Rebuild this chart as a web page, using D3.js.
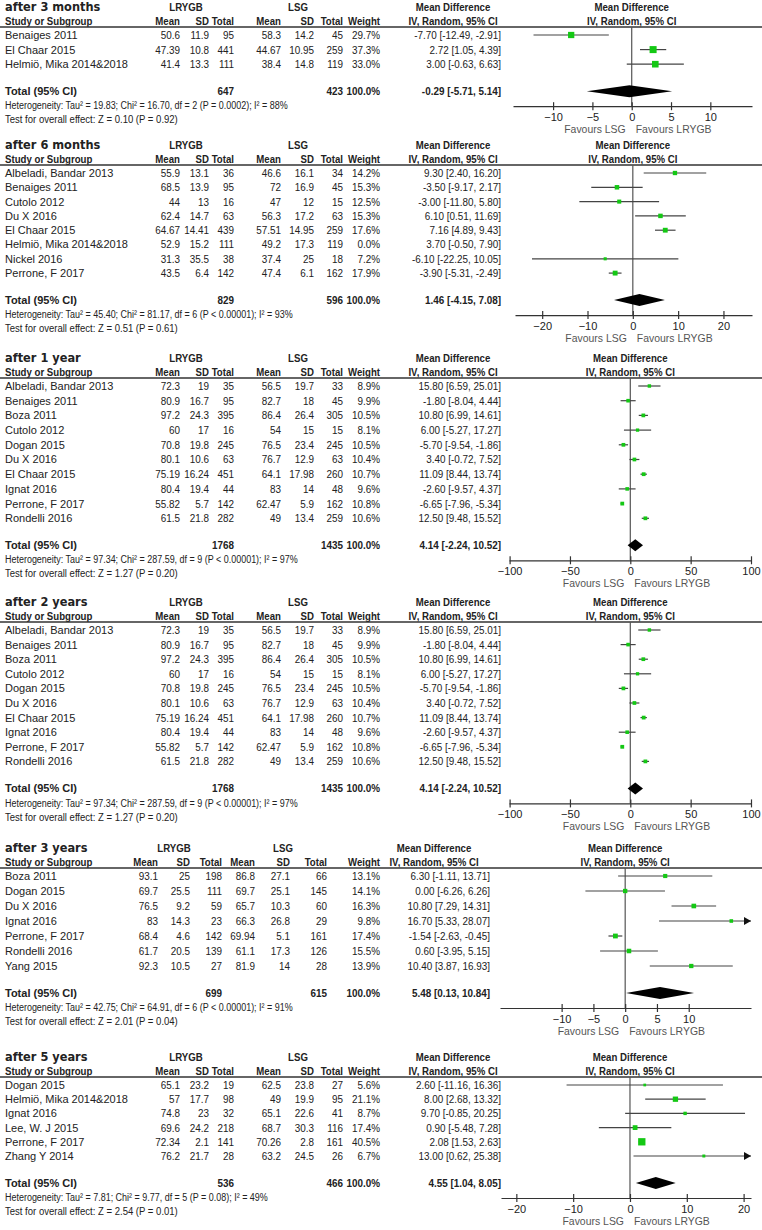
<!DOCTYPE html>
<html>
<head>
<meta charset="utf-8">
<script src="https://cdn.jsdelivr.net/npm/d3@7"></script>
<style>
  body { margin: 0; background: #fff; }
  text { font-family: "Liberation Sans", Arial, sans-serif; font-size: 11px; fill: #222; }
  .b { font-weight: bold; }
  .h { font-weight: bold; font-size: 10.5px; }
  .note { font-size: 11.5px; }
  .title { font-family: "DejaVu Sans", Verdana, sans-serif; font-weight: bold; font-size: 12px; }
  .fav { fill: #555; }
</style>
</head>
<body>
<script>
// ---- data: after 3 months
var studies3m = ["Benaiges 2011", "El Chaar 2015", "Helmiö, Mika 2014&2018"];
var lrygb3m = [[50.6, 11.9, 95], [47.39, 10.8, 441], [41.4, 13.3, 111]];   // mean, SD, total
var lsg3m = [[58.3, 14.2, 45], [44.67, 10.95, 259], [38.4, 14.8, 119]];
var weight3m = [29.7, 37.3, 33.0];
var md3m = [[-7.70, -12.49, -2.91], [2.72, 1.05, 4.39], [3.00, -0.63, 6.63]]; // md, lower, upper
var totals3m = [647, 423];
var pooled3m = [-0.29, -5.71, 5.14];
var het3m = "Heterogeneity: Tau² = 19.83; Chi² = 16.70, df = 2 (P = 0.0002); I² = 88%";
var test3m = "Test for overall effect: Z = 0.10 (P = 0.92)";
var ticks3m = [-10, -5, 0, 5, 10];

// ---- after 6 months
var studies6m = ["Albeladi, Bandar 2013", "Benaiges 2011", "Cutolo 2012", "Du X 2016", "El Chaar 2015", "Helmiö, Mika 2014&2018", "Nickel 2016", "Perrone, F 2017"];
var lrygb6m = [[55.9, 13.1, 36], [68.5, 13.9, 95], [44, 13, 16], [62.4, 14.7, 63], [64.67, 14.41, 439], [52.9, 15.2, 111], [31.3, 35.5, 38], [43.5, 6.4, 142]];
var lsg6m = [[46.6, 16.1, 34], [72, 16.9, 45], [47, 12, 15], [56.3, 17.2, 63], [57.51, 14.95, 259], [49.2, 17.3, 119], [37.4, 25, 18], [47.4, 6.1, 162]];
var weight6m = [14.2, 15.3, 12.5, 15.3, 17.6, 0.0, 7.2, 17.9];
var md6m = [[9.30, 2.40, 16.20], [-3.50, -9.17, 2.17], [-3.00, -11.80, 5.80], [6.10, 0.51, 11.69], [7.16, 4.89, 9.43], [3.70, -0.50, 7.90], [-6.10, -22.25, 10.05], [-3.90, -5.31, -2.49]];
var totals6m = [829, 596];
var pooled6m = [1.46, -4.15, 7.08];
var het6m = "Heterogeneity: Tau² = 45.40; Chi² = 81.17, df = 6 (P < 0.00001); I² = 93%";
var test6m = "Test for overall effect: Z = 0.51 (P = 0.61)";
var ticks6m = [-20, -10, 0, 10, 20];

// ---- after 1 year (after 2 years shows the same numbers)
var studies1y = ["Albeladi, Bandar 2013", "Benaiges 2011", "Boza 2011", "Cutolo 2012", "Dogan 2015", "Du X 2016", "El Chaar 2015", "Ignat 2016", "Perrone, F 2017", "Rondelli 2016"];
var lrygb1y = [[72.3, 19, 35], [80.9, 16.7, 95], [97.2, 24.3, 395], [60, 17, 16], [70.8, 19.8, 245], [80.1, 10.6, 63], [75.19, 16.24, 451], [80.4, 19.4, 44], [55.82, 5.7, 142], [61.5, 21.8, 282]];
var lsg1y = [[56.5, 19.7, 33], [82.7, 18, 45], [86.4, 26.4, 305], [54, 15, 15], [76.5, 23.4, 245], [76.7, 12.9, 63], [64.1, 17.98, 260], [83, 14, 48], [62.47, 5.9, 162], [49, 13.4, 259]];
var weight1y = [8.9, 9.9, 10.5, 8.1, 10.5, 10.4, 10.7, 9.6, 10.8, 10.6];
var md1y = [[15.80, 6.59, 25.01], [-1.80, -8.04, 4.44], [10.80, 6.99, 14.61], [6.00, -5.27, 17.27], [-5.70, -9.54, -1.86], [3.40, -0.72, 7.52], [11.09, 8.44, 13.74], [-2.60, -9.57, 4.37], [-6.65, -7.96, -5.34], [12.50, 9.48, 15.52]];
var totals1y = [1768, 1435];
var pooled1y = [4.14, -2.24, 10.52];
var het1y = "Heterogeneity: Tau² = 97.34; Chi² = 287.59, df = 9 (P < 0.00001); I² = 97%";
var test1y = "Test for overall effect: Z = 1.27 (P = 0.20)";
var ticks1y = [-100, -50, 0, 50, 100];

// ---- after 3 years
var studies3y = ["Boza 2011", "Dogan 2015", "Du X 2016", "Ignat 2016", "Perrone, F 2017", "Rondelli 2016", "Yang 2015"];
var lrygb3y = [[93.1, 25, 198], [69.7, 25.5, 111], [76.5, 9.2, 59], [83, 14.3, 23], [68.4, 4.6, 142], [61.7, 20.5, 139], [92.3, 10.5, 27]];
var lsg3y = [[86.8, 27.1, 66], [69.7, 25.1, 145], [65.7, 10.3, 60], [66.3, 26.8, 29], [69.94, 5.1, 161], [61.1, 17.3, 126], [81.9, 14, 28]];
var weight3y = [13.1, 14.1, 16.3, 9.8, 17.4, 15.5, 13.9];
var md3y = [[6.30, -1.11, 13.71], [0.00, -6.26, 6.26], [10.80, 7.29, 14.31], [16.70, 5.33, 28.07], [-1.54, -2.63, -0.45], [0.60, -3.95, 5.15], [10.40, 3.87, 16.93]];
var totals3y = [699, 615];
var pooled3y = [5.48, 0.13, 10.84];
var het3y = "Heterogeneity: Tau² = 42.75; Chi² = 64.91, df = 6 (P < 0.00001); I² = 91%";
var test3y = "Test for overall effect: Z = 2.01 (P = 0.04)";
var ticks3y = [-10, -5, 0, 5, 10];

// ---- after 5 years
var studies5y = ["Dogan 2015", "Helmiö, Mika 2014&2018", "Ignat 2016", "Lee, W. J 2015", "Perrone, F 2017", "Zhang  Y 2014"];
var lrygb5y = [[65.1, 23.2, 19], [57, 17.7, 98], [74.8, 23, 32], [69.6, 24.2, 218], [72.34, 2.1, 141], [76.2, 21.7, 28]];
var lsg5y = [[62.5, 23.8, 27], [49, 19.9, 95], [65.1, 22.6, 41], [68.7, 30.3, 116], [70.26, 2.8, 161], [63.2, 24.5, 26]];
var weight5y = [5.6, 21.1, 8.7, 17.4, 40.5, 6.7];
var md5y = [[2.60, -11.16, 16.36], [8.00, 2.68, 13.32], [9.70, -0.85, 20.25], [0.90, -5.48, 7.28], [2.08, 1.53, 2.63], [13.00, 0.62, 25.38]];
var totals5y = [536, 466];
var pooled5y = [4.55, 1.04, 8.05];
var het5y = "Heterogeneity: Tau² = 7.81; Chi² = 9.77, df = 5 (P = 0.08); I² = 49%";
var test5y = "Test for overall effect: Z = 2.54 (P = 0.01)";
var ticks5y = [-20, -10, 0, 10, 20];

// ---- layout
var width = 762, height = 1230;
var SX_NUM = 0.9, SX_HEAD = 0.92, SX_NOTE = 0.78;

var colsWide = {name: 5, m1: 180, s1: 209, n1: 234, m2: 281, s2: 314, n2: 343, w: 380, ci: 501, g1: 186, g2: 298, mdHead: 453};
var colsNarrow = {name: 5, m1: 158, s1: 190, n1: 222, m2: 255, s2: 290, n2: 327, w: 380, ci: 490, g1: 174, g2: 283, mdHead: 434};

var panels = [
  {title: "after 3 months", studies: studies3m, a: lrygb3m, b: lsg3m, w: weight3m, md: md3m, totals: totals3m, pooled: pooled3m, het: het3m, test: test3m, ticks: ticks3m,
   top: 7, step: 14.6, cols: colsWide, dom: [-15.1, 15.3], range: [513, 752]},
  {title: "after 6 months", studies: studies6m, a: lrygb6m, b: lsg6m, w: weight6m, md: md6m, totals: totals6m, pooled: pooled6m, het: het6m, test: test6m, ticks: ticks6m,
   top: 145, step: 14.3, cols: colsWide, dom: [-26, 26.3], range: [515, 752]},
  {title: "after 1 year", studies: studies1y, a: lrygb1y, b: lsg1y, w: weight1y, md: md1y, totals: totals1y, pooled: pooled1y, het: het1y, test: test1y, ticks: ticks1y,
   top: 358, step: 14.7, cols: colsWide, dom: [-100.5, 100], range: [509, 751]},
  {title: "after 2 years", studies: studies1y, a: lrygb1y, b: lsg1y, w: weight1y, md: md1y, totals: totals1y, pooled: pooled1y, het: het1y, test: test1y, ticks: ticks1y,
   top: 602, step: 14.6, cols: colsWide, dom: [-100.5, 100], range: [509, 751]},
  {title: "after 3 years", studies: studies3y, a: lrygb3y, b: lsg3y, w: weight3y, md: md3y, totals: totals3y, pooled: pooled3y, het: het3y, test: test3y, ticks: ticks3y,
   top: 848, step: 15, cols: colsNarrow, dom: [-19.7, 19.8], range: [500, 751]},
  {title: "after 5 years", studies: studies5y, a: lrygb5y, b: lsg5y, w: weight5y, md: md5y, totals: totals5y, pooled: pooled5y, het: het5y, test: test5y, ticks: ticks5y,
   top: 1057, step: 14.2, cols: colsWide, dom: [-22.7, 21.3], range: [501, 751]}
];

var svg = d3.select("body").append("svg")
    .attr("width", width)
    .attr("height", height);

// text placed with a horizontal squeeze, the figure's type is narrow
function txt(g, x, y, s, anchor, cls, sx) {
  return g.append("text")
    .attr("transform", "translate(" + x + "," + y + ") scale(" + (sx || 1) + ",1)")
    .attr("dy", "0.36em")
    .attr("text-anchor", anchor || "start")
    .attr("class", cls || null)
    .text(s);
}

function ciLabel(m) {
  return m[0].toFixed(2) + " [" + m[1].toFixed(2) + ", " + m[2].toFixed(2) + "]";
}

function drawPanel(p) {
  var g = svg.append("g").attr("transform", "translate(0," + p.top + ")");
  var c = p.cols;
  var x = d3.scaleLinear().domain(p.dom).range(p.range);
  var rowY = function(i) { return 28 + i * p.step; };
  var yTot = rowY(p.studies.length - 1) + 27;
  var yAxis = yTot + 15;

  // headers
  txt(g, c.name, 0, p.title, "start", "title", 0.95);
  txt(g, c.g1, 0, "LRYGB", "middle", "h", SX_HEAD);
  txt(g, c.g2, 0, "LSG", "middle", "h", SX_HEAD);
  txt(g, c.mdHead, 0, "Mean Difference", "middle", "h", SX_HEAD);
  txt(g, x(0), 0, "Mean Difference", "middle", "h", SX_HEAD);
  txt(g, c.name, 14, "Study or Subgroup", "start", "h", SX_HEAD);
  [[c.m1, "Mean"], [c.s1, "SD"], [c.n1, "Total"], [c.m2, "Mean"], [c.s2, "SD"], [c.n2, "Total"], [c.w, "Weight"]]
    .forEach(function(h) { txt(g, h[0], 14, h[1], "end", "h", SX_HEAD); });
  txt(g, c.mdHead, 14, "IV, Random, 95% CI", "middle", "h", SX_HEAD);
  txt(g, x(0), 14, "IV, Random, 95% CI", "middle", "h", SX_HEAD);

  g.append("line")
    .attr("x1", 0).attr("x2", width)
    .attr("y1", 20).attr("y2", 20)
    .attr("stroke", "#333").attr("stroke-width", 1.5);

  // zero line
  g.append("line")
    .attr("x1", x(0)).attr("x2", x(0))
    .attr("y1", 20).attr("y2", yAxis)
    .attr("stroke", "#555").attr("stroke-width", 1.2);

  // study rows
  p.studies.forEach(function(s, i) {
    var y = rowY(i);
    txt(g, c.name, y, s);
    txt(g, c.m1, y, p.a[i][0], "end", null, SX_NUM);
    txt(g, c.s1, y, p.a[i][1], "end", null, SX_NUM);
    txt(g, c.n1, y, p.a[i][2], "end", null, SX_NUM);
    txt(g, c.m2, y, p.b[i][0], "end", null, SX_NUM);
    txt(g, c.s2, y, p.b[i][1], "end", null, SX_NUM);
    txt(g, c.n2, y, p.b[i][2], "end", null, SX_NUM);
    txt(g, c.w, y, p.w[i].toFixed(1) + "%", "end", null, SX_NUM);
    var m = p.md[i];
    txt(g, c.ci, y, ciLabel(m), "end", null, SX_NUM);

    if (p.w[i] <= 0) return;
    var lo = Math.max(m[1], p.dom[0]), hi = Math.min(m[2], p.dom[1]);
    g.append("line")
      .attr("x1", x(lo)).attr("x2", x(hi))
      .attr("y1", y).attr("y2", y)
      .attr("stroke", "#444").attr("stroke-width", 1.2);
    if (m[2] > p.dom[1]) {
      var xe = x(p.dom[1]);
      g.append("path")
        .attr("d", "M" + xe + "," + y + "L" + (xe - 7) + "," + (y - 4) + "L" + (xe - 7) + "," + (y + 4) + "Z")
        .attr("fill", "#111");
    }
    var sz = Math.max(2.5, 1.15 * Math.sqrt(p.w[i]));
    g.append("rect")
      .attr("x", x(m[0]) - sz / 2).attr("y", y - sz / 2)
      .attr("width", sz).attr("height", sz)
      .attr("fill", "#14c814");
  });

  // total row
  txt(g, c.name, yTot, "Total (95% CI)", "start", "b");
  txt(g, c.n1, yTot, p.totals[0], "end", "b", SX_NUM);
  txt(g, c.n2, yTot, p.totals[1], "end", "b", SX_NUM);
  txt(g, c.w, yTot, "100.0%", "end", "b", SX_NUM);
  var pm = p.pooled;
  txt(g, c.ci, yTot, ciLabel(pm), "end", "b", SX_NUM);
  g.append("path")
    .attr("d", "M" + x(pm[1]) + "," + yTot + "L" + x(pm[0]) + "," + (yTot - 6) +
               "L" + x(pm[2]) + "," + yTot + "L" + x(pm[0]) + "," + (yTot + 6) + "Z")
    .attr("fill", "#000");

  txt(g, c.name, yTot + 14, p.het, "start", "note", SX_NOTE);
  txt(g, c.name, yTot + 28, p.test, "start", "note", SX_NOTE + 0.05);

  // axis
  var ax = g.append("g")
    .attr("transform", "translate(0," + yAxis + ")")
    .call(d3.axisBottom(x).tickValues(p.ticks).tickSize(4).tickSizeOuter(0).tickPadding(3));
  ax.select(".domain").attr("stroke", "#333").attr("stroke-width", 1.2);
  ax.selectAll(".tick line").attr("y1", -4).attr("stroke", "#333").attr("stroke-width", 1.2);
  ax.selectAll(".tick text")
    .style("font-family", "Liberation Sans, Arial, sans-serif")
    .style("font-size", "11px")
    .attr("fill", "#222");

  txt(g, x(0) - 6, yAxis + 23, "Favours LSG", "end", "fav", 0.95);
  txt(g, x(0) + 4, yAxis + 23, "Favours LRYGB", "start", "fav", 0.95);
}

panels.forEach(drawPanel);
</script>
</body>
</html>
